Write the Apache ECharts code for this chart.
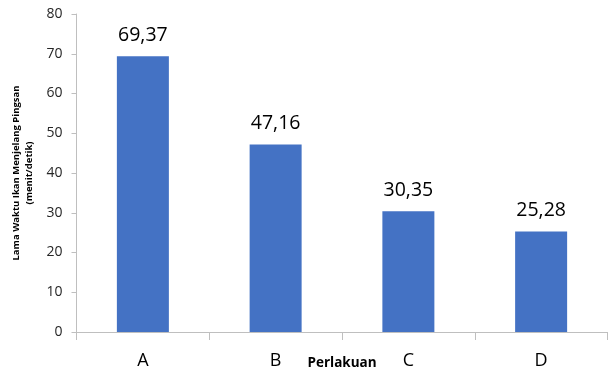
<!DOCTYPE html>
<html>
<head>
<meta charset="utf-8">
<script src="https://cdn.jsdelivr.net/npm/echarts@6/dist/echarts.min.js"></script>
<style>
  html, body { margin: 0; padding: 0; background: #fff; }
  #chart { width: 612px; height: 371px; }
</style>
</head>
<body>
<div id="chart"></div>
<script>
// Treatment groups and mean time to fainting
const categories = ['A', 'B', 'C', 'D'];
const values = [69.37, 47.16, 30.35, 25.28];
const yTicks = { min: 0, max: 80, interval: 10 };

const FONT = '"Open Sans", "Noto Sans", sans-serif';
const chart = echarts.init(document.getElementById('chart'), null, { renderer: 'canvas' });

chart.setOption({
  animation: false,
  backgroundColor: '#ffffff',
  grid: { left: 76.5, right: 4.5, top: 14, bottom: 39, containLabel: false, outerBoundsMode: 'none' },
  xAxis: {
    type: 'category',
    data: categories,
    name: 'Perlakuan',
    nameLocation: 'middle',
    nameGap: 24,
    nameMoveOverlap: false,
    nameTextStyle: { fontFamily: FONT, fontSize: 13.5, fontWeight: 'bold', color: '#000' },
    axisLine: { lineStyle: { color: '#bfbfbf', width: 1 } },
    axisTick: { show: true, alignWithLabel: false, length: 8, lineStyle: { color: '#bfbfbf' } },
    axisLabel: { fontFamily: FONT, fontSize: 18, color: '#000', margin: 20 }
  },
  yAxis: {
    type: 'value',
    min: yTicks.min,
    max: yTicks.max,
    interval: yTicks.interval,
    name: 'Lama Waktu Ikan Menjelang Pingsan\n(menit/detik)',
    nameLocation: 'middle',
    nameRotate: 90,
    nameGap: 35,
    nameTextStyle: { fontFamily: FONT, fontSize: 9.5, fontWeight: 'bold', color: '#000', lineHeight: 13, align: 'center' },
    axisLine: { show: true, lineStyle: { color: '#bfbfbf', width: 1 } },
    axisTick: { show: true, length: 5, lineStyle: { color: '#bfbfbf' } },
    splitLine: { show: false },
    axisLabel: { fontFamily: FONT, fontSize: 14, color: '#262626', margin: 14 }
  },
  series: [{
    type: 'bar',
    data: values,
    barWidth: 52,
    itemStyle: { color: '#4472c4' },
    label: {
      show: true,
      position: 'top',
      distance: 11,
      fontFamily: FONT,
      fontSize: 19.5,
      color: '#000',
      formatter: p => p.value.toFixed(2).replace('.', ',')
    }
  }]
});
</script>
</body>
</html>
